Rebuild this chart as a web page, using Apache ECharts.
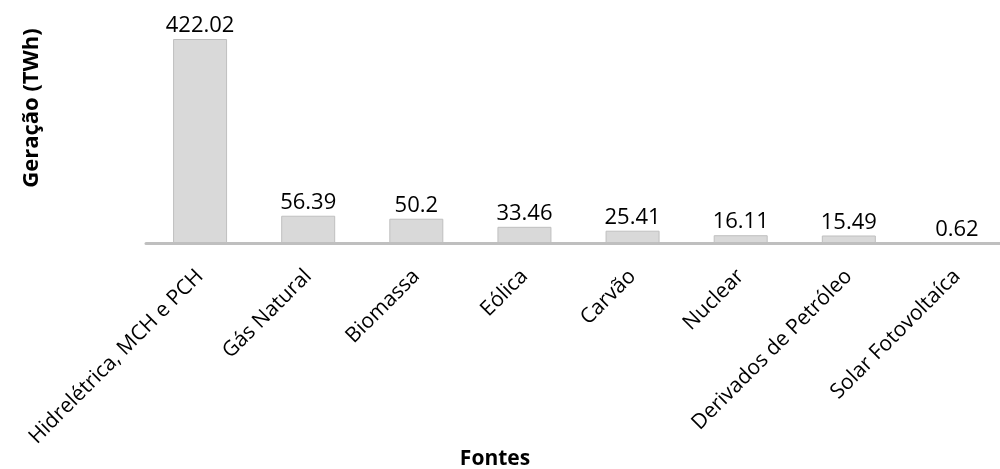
<!DOCTYPE html>
<html>
<head>
<meta charset="utf-8">
<script src="https://cdn.jsdelivr.net/npm/echarts@6/dist/echarts.min.js"></script>
<style>
  html, body { margin: 0; padding: 0; background: #fff; }
  #chart { width: 1000px; height: 469px; }
</style>
</head>
<body>
<div id="chart"></div>
<script>
// Geração de energia elétrica por fonte (TWh)
const categories = [
  'Hidrelétrica, MCH e PCH',
  'Gás Natural',
  'Biomassa',
  'Eólica',
  'Carvão',
  'Nuclear',
  'Derivados de Petróleo',
  'Solar Fotovoltaíca'
];
const geracao = [422.02, 56.39, 50.2, 33.46, 25.41, 16.11, 15.49, 0.62];

const yTitle = 'Geração (TWh)';
const xTitle = 'Fontes';

const FONT = '"Open Sans", "Noto Sans", sans-serif';

const chart = echarts.init(document.getElementById('chart'), null, { renderer: 'canvas' });

chart.setOption({
  animation: false,
  backgroundColor: '#ffffff',
  grid: {
    left: 146, top: 39, width: 865, height: 204,
    containLabel: false,
    outerBoundsMode: 'none'
  },
  xAxis: {
    type: 'category',
    data: categories,
    boundaryGap: true,
    axisLine: { show: true, lineStyle: { color: '#bfbfbf', width: 3 } },
    axisTick: { show: false },
    axisLabel: {
      rotate: 45,
      interval: 0,
      margin: 30,
      color: '#000000',
      fontSize: 21,
      fontFamily: FONT
    },
    splitLine: { show: false }
  },
  yAxis: {
    type: 'value',
    min: 0,
    max: 422.02,
    show: false,
    splitLine: { show: false }
  },
  series: [{
    type: 'bar',
    data: geracao,
    barWidth: 54,
    itemStyle: { color: '#d9d9d9', borderColor: '#bfbfbf', borderWidth: 1 },
    label: {
      show: true,
      position: 'top',
      distance: 2,
      color: '#000000',
      fontSize: 22,
      fontFamily: FONT
    }
  }],
  graphic: [
    {
      type: 'text',
      x: 32,
      y: 108,
      rotation: Math.PI / 2,
      style: {
        text: yTitle,
        fill: '#000000',
        font: 'bold 22px ' + FONT,
        textAlign: 'center',
        textVerticalAlign: 'middle'
      }
    },
    {
      type: 'text',
      x: 495,
      y: 459,
      style: {
        text: xTitle,
        fill: '#000000',
        font: 'bold 21px ' + FONT,
        textAlign: 'center',
        textVerticalAlign: 'middle'
      }
    }
  ]
});
</script>
</body>
</html>
